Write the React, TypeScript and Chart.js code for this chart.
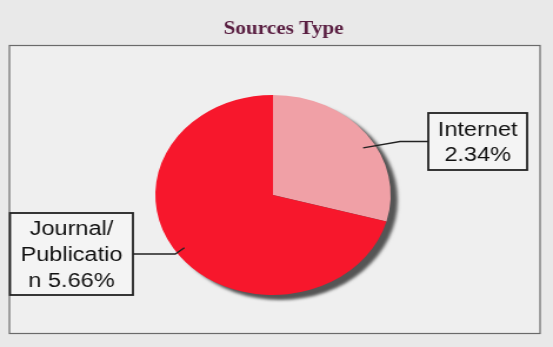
import React, { useEffect, useRef } from "react";
import { Chart, registerables } from "chart.js";

Chart.register(...registerables);

const title = "Sources Type";
const categories = ["Internet", "Journal/Publication"];
const values = [2.34, 5.66];
const labelLines = [["Internet", "2.34%"], ["Journal/", "Publicatio", "n 5.66%"]];
const colors = ["#f0a0a6", "#f7172c"];

// canvas is drawn at 470px wide and shown at 553px, like the stretched photo
const CW = 470;
const CH = 347;

const decorPlugin = {
  id: "decor",
  beforeDraw(chart: any) {
    const ctx = chart.ctx;
    ctx.save();
    ctx.fillStyle = "#e9e9e9";
    ctx.fillRect(0, 0, chart.width, chart.height);
    ctx.fillStyle = "#efefef";
    ctx.fillRect(8, 45, 451, 288);
    ctx.strokeStyle = "#6a6a6a";
    ctx.lineWidth = 1.2;
    ctx.strokeRect(8, 45.5, 451, 288);
    ctx.fillStyle = "#5a1f42";
    ctx.font = "bold 18px 'Liberation Serif', serif";
    ctx.textAlign = "center";
    ctx.textBaseline = "middle";
    ctx.fillText(title, 241, 29);
    ctx.restore();
  },
  beforeDatasetsDraw(chart: any) {
    const ctx = chart.ctx;
    const arc = chart.getDatasetMeta(0).data[0];
    if (!arc) return;
    const { x, y, outerRadius } = arc.getProps(["x", "y", "outerRadius"], true);
    ctx.save();
    ctx.fillStyle = "#555555";
    ctx.filter = "blur(1.5px)";
    ctx.beginPath();
    ctx.arc(x + 6, y + 5, outerRadius, 0, Math.PI * 2);
    ctx.fill();
    ctx.restore();
  },
  afterDatasetsDraw(chart: any) {
    const ctx = chart.ctx;
    const meta = chart.getDatasetMeta(0);
    const boxes = [
      { x: 364, y: 113, w: 84, h: 57, lx: 340, da: 0.1, r: 0.9, lh: 25 },
      { x: 8.5, y: 213, w: 104.5, h: 82, lx: 149, da: 0.04, r: 0.92, lh: 26 },
    ];
    meta.data.forEach((arc: any, i: number) => {
      const { x, y, startAngle, endAngle, outerRadius } = arc.getProps(
        ["x", "y", "startAngle", "endAngle", "outerRadius"],
        true
      );
      const b = boxes[i];
      const mid = (startAngle + endAngle) / 2 + b.da;
      const ax = x + Math.cos(mid) * outerRadius * b.r;
      const ay = y + Math.sin(mid) * outerRadius * b.r;
      const boxSide = i === 0 ? b.x : b.x + b.w;
      const ly = b.y + b.h / 2;
      ctx.save();
      ctx.strokeStyle = "#222";
      ctx.lineWidth = 1.3;
      ctx.beginPath();
      ctx.moveTo(ax, ay);
      ctx.lineTo(b.lx, ly);
      ctx.lineTo(boxSide, ly);
      ctx.stroke();
      ctx.fillStyle = "#f4f4f4";
      ctx.fillRect(b.x, b.y, b.w, b.h);
      ctx.lineWidth = 1.8;
      ctx.strokeRect(b.x, b.y, b.w, b.h);
      ctx.fillStyle = "#111";
      ctx.font = "20px 'Liberation Sans', Arial, sans-serif";
      ctx.textAlign = "center";
      ctx.textBaseline = "middle";
      const lines = labelLines[i];
      const top = ly - ((lines.length - 1) * b.lh) / 2;
      lines.forEach((t, k) => ctx.fillText(t, b.x + b.w / 2, top + k * b.lh + 1));
      ctx.restore();
    });
  },
};

export default function App() {
  const ref = useRef<HTMLCanvasElement>(null);
  useEffect(() => {
    document.body.style.margin = "0";
    const chart = new Chart(ref.current!, {
      type: "pie",
      data: {
        labels: categories,
        datasets: [
          {
            data: values,
            backgroundColor: colors,
            borderWidth: 0,
          },
        ],
      },
      options: {
        animation: false,
        responsive: false,
        events: [],
        layout: { padding: { top: 95, bottom: 52, left: 132, right: 138 } },
        plugins: {
          legend: { display: false },
          tooltip: { enabled: false },
          title: { display: false },
        },
      },
      plugins: [decorPlugin],
    });
    return () => chart.destroy();
  }, []);
  return (
    <canvas
      ref={ref}
      width={CW}
      height={CH}
      style={{ display: "block", width: "553px", height: "347px" }}
    />
  );
}
